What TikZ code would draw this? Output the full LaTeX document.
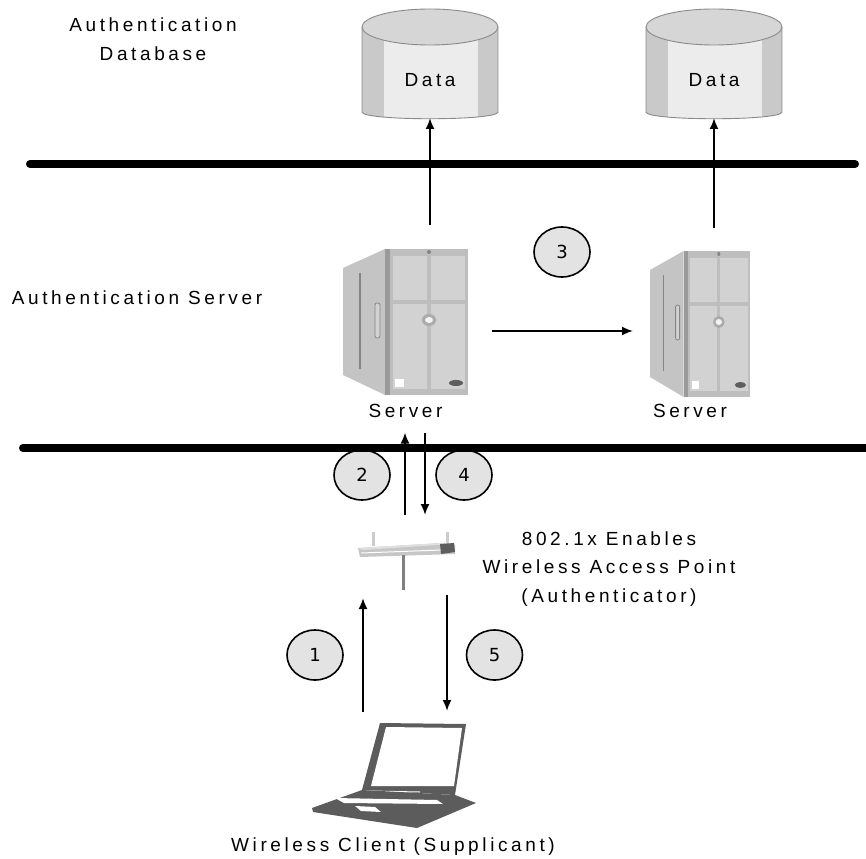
\documentclass[tikz,border=0pt]{standalone}
\usepackage{fontspec}
\usepackage{tikz}
\usetikzlibrary{arrows.meta,positioning,shapes.geometric}
\newfontfamily\spaced{Liberation Sans}[LetterSpace=19]
\newfontfamily\numfont{DejaVu Sans}
\definecolor{dbside}{HTML}{C9C9C9}
\definecolor{dbface}{HTML}{ECECEC}
\definecolor{dbtop}{HTML}{D6D6D6}
\definecolor{dbline}{HTML}{8A8A8A}
\definecolor{srvside}{HTML}{C4C4C4}
\definecolor{srvedge}{HTML}{9A9A9A}
\definecolor{srvfront}{HTML}{BEBEBE}
\definecolor{srvpanel}{HTML}{D2D2D2}
\definecolor{srvline}{HTML}{858585}
\definecolor{srvdark}{HTML}{5E5E5E}
\definecolor{lapgray}{HTML}{5C5C5C}
\definecolor{numfill}{HTML}{E3E3E3}
\tikzstyle{bus} = [line width=8pt, line cap=round]
\tikzstyle{line} = [draw, line width=1.8pt, -{Latex[length=11pt,width=9pt]}]
\tikzstyle{stepnum} = [ellipse, draw, line width=1.6pt, fill=numfill, minimum width=56pt, minimum height=50pt, inner sep=0pt, font=\numfont\fontsize{18}{20}\selectfont]
\tikzstyle{caption} = [align=center, font=\spaced\fontsize{19}{28.5}\selectfont]
\tikzstyle{icon} = [inner sep=0pt, outer sep=0pt]

% icons, drawn from their top left corner with y running down
\tikzset{
  database/.pic={
    \begin{scope}
      \clip (0,19) -- (0,104) .. controls (0,113) and (136,113) .. (136,104) -- (136,19) -- cycle;
      \fill[dbside] (0,0) rectangle (136,120);
      \fill[dbface] (22,0) rectangle (116,120);
    \end{scope}
    \draw[dbline, line width=0.9pt] (0,19) -- (0,104) .. controls (0,113) and (136,113) .. (136,104) -- (136,19);
    \filldraw[fill=dbtop, draw=dbline, line width=0.9pt] (68,19) ellipse [x radius=68, y radius=18];
    \node[font=\spaced\fontsize{19}{20}\selectfont] at (68,72) {Data};
  },
  server/.pic={
    \fill[srvside] (0,20) -- (42,1) -- (42,147) -- (0,127) -- cycle;
    \draw[srvline, line width=1.2pt] (17,25) -- (17,121);
    \filldraw[fill=srvpanel, draw=srvline, line width=0.8pt, rounded corners=2pt] (32,55) rectangle (37,90);
    \fill[srvedge] (42,1) rectangle (47,147);
    \fill[srvfront] (47,1) rectangle (125,147);
    \foreach \xa/\xb in {50/84, 88/122} {
      \fill[srvpanel] (\xa,8) rectangle (\xb,52);
      \fill[srvpanel] (\xa,56) rectangle (\xb,141);
    }
    \fill[srvline] (86,4) circle [radius=2pt];
    \fill[srvline!70] (86,72) ellipse [x radius=7pt, y radius=6pt];
    \fill[white!90!gray] (86,72) ellipse [x radius=4pt, y radius=3pt];
    \fill[white] (52,131) rectangle (61,139);
    \fill[srvdark] (113,135) ellipse [x radius=7pt, y radius=3pt];
  },
  accesspoint/.pic={
    \draw[gray!40, line width=3pt] (18,2) -- (18,16) (92,2) -- (92,16);
    \fill[gray!45] (3,18) -- (87,13) -- (100,15) -- (100,24) -- (5,27) -- cycle;
    \fill[gray!25] (3,18) -- (87,13) -- (97,14) -- (8,20) -- cycle;
    \draw[white, line width=1pt] (6,23) -- (86,20);
    \fill[srvdark] (85,14) -- (99,13) -- (100,22) -- (86,24) -- cycle;
    \draw[gray, line width=3pt] (48,25) -- (48,60);
  },
  laptop/.pic={
    \fill[lapgray] (69,1) -- (155,2) -- (144,73) -- (51,68) -- cycle;
    \fill[white] (75,5) -- (151,6) -- (143,64) -- (60,64) -- cycle;
    \draw[white, line width=1pt] (59,69) -- (109,70);
    \fill[lapgray] (1,86) -- (51,68) -- (144,73) -- (165,81) -- (106,106) -- (2,90) -- cycle;
    \fill[white] (24,76) -- (126,78) -- (132,82) -- (33,81) -- cycle;
    \fill[white] (44,84) -- (64,85) -- (70,90) -- (50,89) -- cycle;
  }
}

\begin{document}
\begin{tikzpicture}[x=1pt, y=-1pt]
\useasboundingbox (0,0) rectangle (866,858);
% Place nodes
\node[icon, minimum width=136pt, minimum height=104pt] (db1) at (430,60) {};
\node[icon, minimum width=136pt, minimum height=104pt] (db2) at (714,60) {};
\node[icon, minimum width=125pt, minimum height=147pt] (srv1) at (405.5,321.5) {};
\node[icon, minimum width=100pt, minimum height=147pt] (srv2) at (700,323.5) {};
\node[icon, minimum width=100pt, minimum height=60pt] (ap) at (405,560) {};
\node[icon, minimum width=164pt, minimum height=107pt] (client) at (393,775.5) {};
\pic at (db1.north west) {database};
\pic at (db2.north west) {database};
\pic at (srv1.north west) {server};
\pic[xscale=0.8] at (srv2.north west) {server};
\pic at (ap.north west) {accesspoint};
\pic at (client.north west) {laptop};
\node[caption, below=6pt of srv1] (srv1lbl) {Server};
\node[caption, below=4pt of srv2, xshift=-10pt] (srv2lbl) {Server};
\node[caption, below=5pt of client] (clientlbl) {Wireless Client (Supplicant)};
\node[caption] (dblbl) at (153,39) {Authentication\\Database};
\node[caption] (srvlbl) at (137,298) {Authentication Server};
\node[caption] (aplbl) at (609,569) {802.1x Enables\\Wireless Access Point\\(Authenticator)};
% Numbered steps
\node[stepnum] (s1) at (315,655) {1};
\node[stepnum] (s2) at (362,475) {2};
\node[stepnum] (s3) at (562,252) {3};
\node[stepnum] (s4) at (464,475) {4};
\node[stepnum] (s5) at (494.5,655) {5};
% Network backbones
\draw[bus] (30,164) -- (855,164);
\draw[bus] (23,448) -- (880,448);
% Draw edges
\coordinate (apdown) at ([xshift=20pt]ap.north);
\coordinate (apleft) at ([xshift=-42pt]ap.south);
\coordinate (apright) at ([xshift=42pt]ap.south);
\coordinate (clleft) at ([xshift=-30pt]client.north);
\coordinate (clright) at ([xshift=54pt]client.north);
\path[line, shorten <=23pt, shorten >=6pt] (db1.south |- srv1.north) -- (db1.south);
\path[line, shorten <=22pt, shorten >=6pt] (db2.south |- srv2.north) -- (db2.south);
\path[line, shorten <=24pt, shorten >=17pt] (srv1.east |- 0,331) -- (srv2.west |- 0,331);
\path[line, shorten <=15pt, shorten >=11pt] (ap.north) -- (ap.north |- srv1lbl.south);
\path[line, shorten <=11pt, shorten >=15pt] (apdown |- srv1lbl.south) -- (apdown);
\path[line, shorten <=10pt, shorten >=8pt] (clleft) -- (apleft);
\path[line, shorten <=5pt, shorten >=11pt] (apright) -- (clright);
\end{tikzpicture}
\end{document}
